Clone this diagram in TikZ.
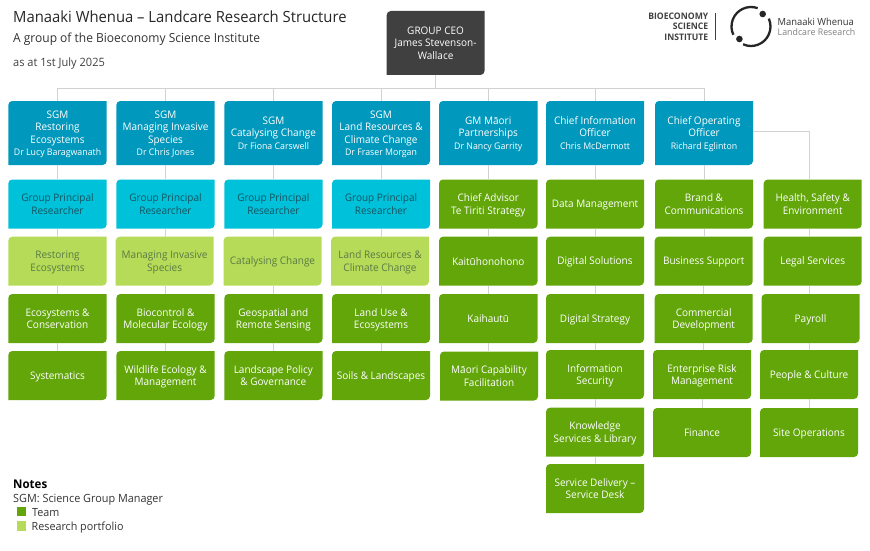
\documentclass[tikz,border=0pt]{standalone}
\usepackage{fontspec}
\setmainfont[FakeStretch=0.96]{Open Sans}
\definecolor{cblue}{HTML}{0098BC}
\definecolor{cteal}{HTML}{00C1DA}
\definecolor{clight}{HTML}{B5DB58}
\definecolor{cgreen}{HTML}{62A60A}
\definecolor{cdark}{HTML}{404040}
\definecolor{cline}{HTML}{D2D2D2}
\definecolor{ctealtext}{HTML}{17535F}
\definecolor{clighttext}{HTML}{5B7A45}
\newcommand\fsz[2]{\fontsize{#1}{#2}\selectfont}
\newcommand\nm{\fsz{9.15}{12.5}}
% name, x0, y0, x1, y1, style, text
\newcommand\bx[7]{%
  \fill[#6] ({#2},{#3+4}) .. controls ({#2},{#3+1.8}) and ({#2+1.8},{#3}) .. ({#2+4},{#3})
    -- ({#4},{#3}) -- ({#4},{#5-4}) .. controls ({#4},{#5-1.8}) and ({#4-1.8},{#5}) .. ({#4-4},{#5})
    -- ({#2},{#5}) -- cycle;
  \node[boxtext,#6,fill=none,minimum width={(#4-#2)*1pt},minimum height={(#5-#3)*1pt}] (#1) at ({(#2+#4)/2},{(#3+#5)/2}) {\rule{0pt}{10.2pt}#7\rule[-2.4pt]{0pt}{2.4pt}};
}
\tikzset{
  boxtext/.style={inner sep=0pt,align=center,font=\fsz{10.4}{12.6}},
  ceobox/.style={fill=cdark,text=white},
  sgmbox/.style={fill=cblue,text=white},
  gprbox/.style={fill=cteal,text=ctealtext},
  portbox/.style={fill=clight,text=clighttext},
  teambox/.style={fill=cgreen,text=white},
  conn/.style={draw=cline,line width=1pt},
  lbl/.style={inner sep=0pt,anchor=west}
}
\begin{document}
\begin{tikzpicture}[x=1pt,y=-1pt]
\useasboundingbox (0,0) rectangle (870,551);
% headers
\node[lbl,text=black!85,font=\fsz{15.44}{17}] (title) at (13,17) {Manaaki Whenua – Landcare Research Structure};
\node[lbl,text=black!80,font=\fsz{12.5}{14}] (sub) at (13,39.3) {A group of the Bioeconomy Science Institute};
\node[lbl,text=black!75,font=\fsz{11.5}{12}] (asat) at (13,64) {as at 1st July 2025};
% logo
\node[inner sep=0pt,anchor=east,align=right,text=black!75,font=\bfseries\fsz{9}{10.5}] (bsi) at (708.5,26.5) {BIOECONOMY\\SCIENCE\\INSTITUTE};
\fill[black!75] (715,13) rectangle (716,40.5);
\draw[black!85,line width=2.3pt] (751,26.5) ++(70:19.5pt) arc[start angle=70,end angle=205,radius=19.5pt];
\draw[black!85,line width=2.3pt] (751,26.5) ++(246:19.5pt) arc[start angle=246,end angle=384,radius=19.5pt];
\fill[black!85] (762.7,14) circle (3.3pt);
\fill[black!85] (739.4,39) circle (3.3pt);
\node[lbl,text=black!80,font=\fsz{9.8}{12}] (mw) at (777.5,22) {Manaaki Whenua};
\node[lbl,text=black!50,font=\fsz{9.2}{12}] (lr) at (777.5,32) {Landcare Research};
% boxes
\bx{ceo}{386.7}{11}{484.5}{75}{ceobox}{GROUP CEO\\James Stevenson-\\Wallace}
\bx{s1}{8.3}{101}{106.7}{165}{sgmbox}{SGM\\Restoring\\Ecosystems\\\nm Dr Lucy Baragwanath}
\bx{s2}{116.3}{101}{214.7}{165}{sgmbox}{SGM\\Managing Invasive\\Species\\\nm Dr Chris Jones}
\bx{s3}{224.3}{101}{322.5}{165}{sgmbox}{SGM\\Catalysing Change\\\nm Dr Fiona Carswell}
\bx{s4}{332}{101}{430}{165}{sgmbox}{SGM\\Land Resources \&\\Climate Change\\\nm Dr Fraser Morgan}
\bx{s5}{439}{101}{537.5}{165}{sgmbox}{GM Māori\\Partnerships\\\nm Dr Nancy Garrity}
\bx{s6}{546}{101}{644}{165}{sgmbox}{Chief Information\\Officer\\\nm Chris McDermott}
\bx{s7}{655}{101}{753}{165}{sgmbox}{Chief Operating\\Officer\\\nm Richard Eglinton}
\bx{g1}{8.3}{179.5}{106.7}{228.5}{gprbox}{Group Principal\\Researcher}
\bx{g2}{116.3}{179.5}{214.7}{228.5}{gprbox}{Group Principal\\Researcher}
\bx{g3}{224.3}{179.5}{322.5}{228.5}{gprbox}{Group Principal\\Researcher}
\bx{g4}{332}{179.5}{430}{228.5}{gprbox}{Group Principal\\Researcher}
\bx{r1}{8.3}{236.7}{106.7}{285.5}{portbox}{Restoring\\Ecosystems}
\bx{r2}{115.7}{236.7}{213.5}{285.5}{portbox}{Managing Invasive\\Species}
\bx{r3}{223.5}{236.7}{321.5}{285.5}{portbox}{Catalysing Change}
\bx{r4}{331}{236.7}{429}{285.5}{portbox}{Land Resources \&\\Climate Change}
\bx{t1}{8.3}{294}{106.7}{343}{teambox}{Ecosystems \&\\Conservation}
\bx{t2}{116.3}{294}{214.7}{343}{teambox}{Biocontrol \&\\Molecular Ecology}
\bx{t3}{224.3}{294}{322.5}{343}{teambox}{Geospatial and\\Remote Sensing}
\bx{t4}{332}{294}{430}{343}{teambox}{Land Use \&\\Ecosystems}
\bx{u1}{8.3}{351}{106.7}{400}{teambox}{Systematics}
\bx{u2}{116.3}{351}{214.7}{400}{teambox}{Wildlife Ecology \&\\Management}
\bx{u3}{224.3}{351}{322.5}{400}{teambox}{Landscape Policy\\\& Governance}
\bx{u4}{332}{351}{430}{400}{teambox}{Soils \& Landscapes}
\bx{a1}{439}{179.5}{537.5}{228.5}{teambox}{Chief Advisor\\Te Tiriti Strategy}
\bx{a2}{439}{236.7}{537.5}{285.5}{teambox}{Kaitūhonohono}
\bx{a3}{439}{294}{537.5}{343}{teambox}{Kaihautū}
\bx{a4}{440}{351.5}{538}{400.5}{teambox}{Māori Capability\\Facilitation}
\bx{b1}{546}{179.5}{644}{228.5}{teambox}{Data Management}
\bx{b2}{546}{236.7}{644}{285.5}{teambox}{Digital Solutions}
\bx{b3}{546}{294}{644}{343}{teambox}{Digital Strategy}
\bx{b4}{546}{350}{644}{399}{teambox}{Information\\Security}
\bx{b5}{546}{407.7}{644}{456.7}{teambox}{Knowledge\\Services \& Library}
\bx{b6}{546}{464}{644}{513}{teambox}{Service Delivery –\\Service Desk}
\bx{c1}{655}{179.5}{753}{228.5}{teambox}{Brand \&\\Communications}
\bx{c2}{654.7}{236.7}{752.7}{285.5}{teambox}{Business Support}
\bx{c3}{654.7}{294}{752.7}{343}{teambox}{Commercial\\Development}
\bx{c4}{653}{350}{751}{399}{teambox}{Enterprise Risk\\Management}
\bx{c5}{653}{408}{751}{457}{teambox}{Finance}
\bx{d1}{763.7}{179.5}{861.7}{228.5}{teambox}{Health, Safety \&\\Environment}
\bx{d2}{763.7}{236.7}{861.7}{285.5}{teambox}{Legal Services}
\bx{d3}{761.5}{294}{859.5}{343}{teambox}{Payroll}
\bx{d4}{760}{350}{858}{399}{teambox}{People \& Culture}
\bx{d5}{760}{408}{858}{457}{teambox}{Site Operations}
% connectors
\coordinate (bus) at (0,88);
\coordinate (c8) at (809.3,131);
\foreach \n in {s1,s2,s3,s4,s5,s6,s7}
  \draw[conn] (ceo.south) -- (ceo.south |- bus) -| (\n.north);
\foreach \a/\b in {s1/g1,g1/r1,r1/t1,t1/u1,s2/g2,g2/r2,s3/g3,g3/r3,s4/g4,g4/r4,s5/a1,a1/a2,a2/a3,a3/a4,s6/b1,b1/b2,b2/b3,b3/b4,b4/b5,b5/b6,s7/c1,c1/c2,c2/c3,c3/c4,c4/c5}
  \draw[conn] (\a.south) -- (\a.south |- \b.north);
\foreach \a/\b in {r2/t2,t2/u2,r3/t3,t3/u3,r4/t4,t4/u4}
  \draw[conn] (\b.north |- \a.south) -- (\b.north);
\draw[conn] (s7.east |- c8) -- (c8) -- (c8 |- d1.north);
\foreach \a/\b in {d1/d2,d2/d3,d3/d4,d4/d5}
  \draw[conn] (c8 |- \a.south) -- (c8 |- \b.north);
% notes
\node[lbl,text=black,font=\bfseries\fsz{12}{14}] (notes) at (13,484) {Notes};
\node[lbl,text=black!80,font=\fsz{11.3}{13}] (sgm) at (13,499.5) {SGM: Science Group Manager};
\fill[cgreen] (16.5,506.5) rectangle (26.3,516.2);
\node[lbl,text=black!80,font=\fsz{11.2}{13}] (team) at (32,513) {Team};
\fill[clight] (16.5,521) rectangle (26.3,530.7);
\node[lbl,text=black!80,font=\fsz{11.2}{13}] (port) at (31.5,527.5) {Research portfolio};
\end{tikzpicture}
\end{document}
